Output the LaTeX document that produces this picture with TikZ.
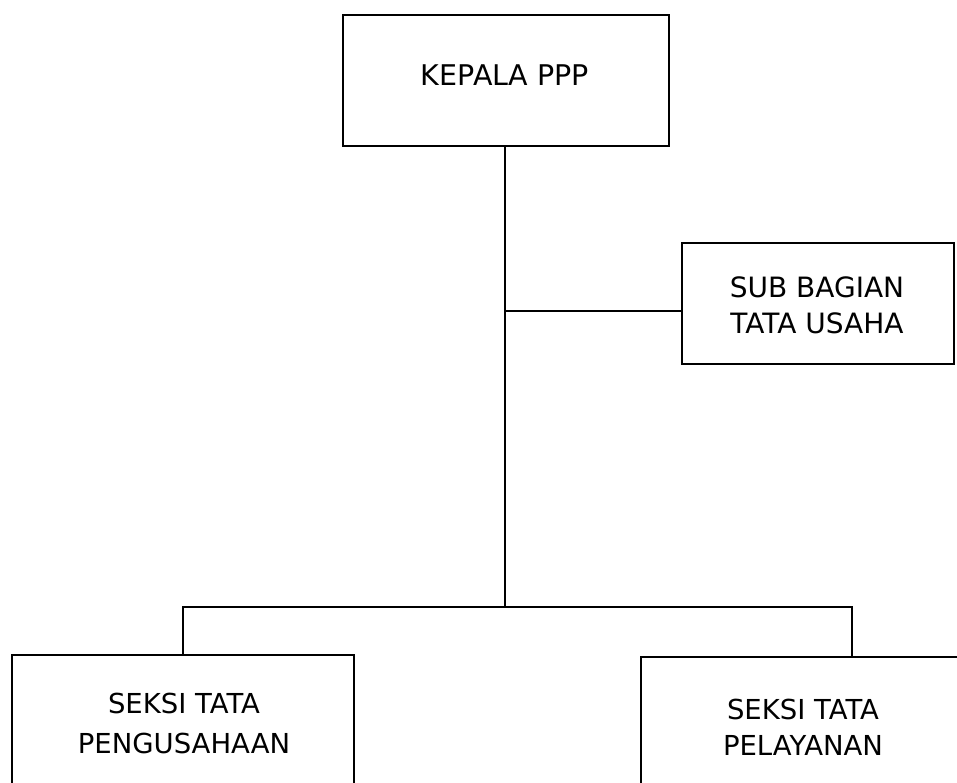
\documentclass[tikz,border=0pt]{standalone}
\usepackage{fontspec}
\setmainfont{DejaVu Sans}
\begin{document}
\begin{tikzpicture}[x=1pt,y=-1pt,
  orgbox/.style={draw, line width=1.8pt, rectangle, inner sep=0pt},
  orgtext/.style={inner sep=0pt, align=center},
  conn/.style={line width=1.8pt}]
\useasboundingbox (0,0) rectangle (957,783);
\clip (0,0) rectangle (957,783);
\node[orgbox, minimum width=326pt, minimum height=131pt] (kep) at (506,80.5) {};
\node[orgtext, font=\fontsize{28.5}{38}\selectfont] (kept) at (505,75) {KEPALA PPP};
\node[orgbox, minimum width=272pt, minimum height=121pt] (sub) at (818,303.5) {};
\node[orgtext, font=\fontsize{28}{36}\selectfont] (subt) at (817,305.5) {SUB BAGIAN\\TATA USAHA};
\node[orgbox, minimum width=342pt, minimum height=136pt] (sek1) at (183,723) {};
\node[orgtext, font=\fontsize{27.5}{40}\selectfont] (sek1t) at (184,723) {SEKSI TATA\\PENGUSAHAAN};
\node[orgbox, minimum width=324pt, minimum height=140pt] (sek2) at (803,727) {};
\node[orgtext, font=\fontsize{27.5}{36}\selectfont] (sek2t) at (803,727) {SEKSI TATA\\PELAYANAN};
\coordinate (js) at (505,311);
\coordinate (jb) at (505,607);
\coordinate (dl) at (183,607);
\coordinate (dr) at (852,607);
\draw[conn] (kep.south -| js) -- (jb);
\draw[conn] (js) -- (js -| sub.west);
\draw[conn] (dl |- sek1.north) -- (dl) -- (dr) -- (dr |- sek2.north);
\end{tikzpicture}
\end{document}
